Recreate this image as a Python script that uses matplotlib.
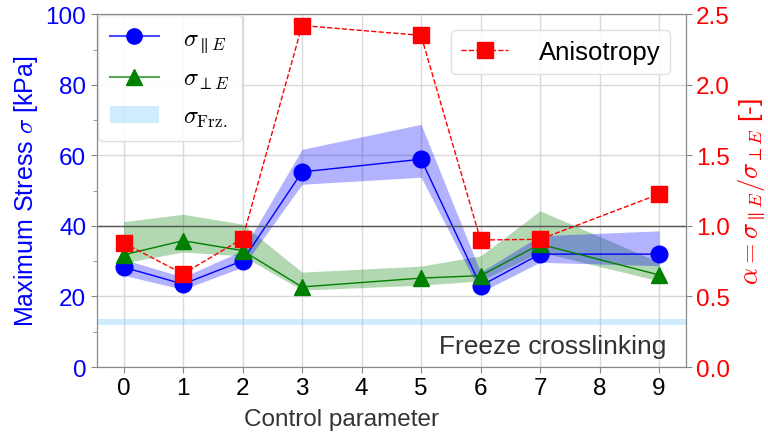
import matplotlib
matplotlib.use("Agg")
import matplotlib.pyplot as plt
from matplotlib.patches import Patch
from matplotlib.lines import Line2D

plt.rcParams['font.family'] = ['Liberation Sans', 'DejaVu Sans']
plt.rcParams['mathtext.fontset'] = 'cm'

x = [0, 1, 2, 3, 5, 6, 7, 9]
sigma_par = [28.3, 23.5, 30.1, 55.3, 58.9, 23.0, 32.0, 32.0]
sigma_par_lo = [26.0, 22.0, 28.3, 51.8, 53.8, 21.2, 29.7, 28.7]
sigma_par_hi = [30.5, 25.5, 33.0, 61.7, 68.8, 26.9, 37.2, 38.6]
sigma_perp = [31.8, 35.8, 33.0, 22.7, 25.2, 25.9, 34.8, 26.1]
sigma_perp_lo = [29.5, 32.6, 31.5, 21.8, 23.2, 24.4, 32.6, 24.4]
sigma_perp_hi = [41.2, 43.3, 40.5, 26.9, 28.6, 31.5, 44.3, 29.7]
anisotropy = [0.88, 0.66, 0.91, 2.42, 2.35, 0.90, 0.905, 1.225]
freeze_lo, freeze_hi = 12.0, 13.5
xticks = list(range(10))

fig = plt.figure(figsize=(7.68, 4.35), dpi=100)
ax = fig.add_axes([0.126, 0.154, 0.767, 0.811])
ax2 = ax.twinx()

ax.set_axisbelow(True)
ax.grid(True, color='#d9d9d9', lw=1)
for s in ax.spines.values():
    s.set_color('#888888')
for s in ax2.spines.values():
    s.set_color('#888888')

ax.axhspan(freeze_lo, freeze_hi, color='lightskyblue', alpha=0.4, lw=0)
ax.fill_between(x, sigma_perp_lo, sigma_perp_hi, color='green', alpha=0.3, lw=0)
ax.fill_between(x, sigma_par_lo, sigma_par_hi, color='blue', alpha=0.3, lw=0)
ax.plot(x, sigma_par, color='blue', lw=1, marker='o', ms=12)
ax.plot(x, sigma_perp, color='green', lw=1, marker='^', ms=12)
ax.axhline(40, color='#555555', lw=1)

ax2.plot(x, anisotropy, color='red', ls='--', lw=1, marker='s', ms=11.5)

ax.set_xlim(-0.45, 9.45)
ax.set_ylim(0, 100)
ax2.set_ylim(0, 2.5)
ax.set_xticks(xticks)
ax.set_xticklabels([str(t) for t in xticks])
ax.set_yticks([0, 20, 40, 60, 80, 100])
ax.set_yticks([10, 30, 50, 70, 90], minor=True)
ax2.set_yticks([0, 0.5, 1.0, 1.5, 2.0, 2.5])

ax.tick_params(axis='x', labelsize=17.5, colors='#888888', labelcolor='black', length=4)
ax.tick_params(axis='y', labelsize=17.5, colors='#888888', labelcolor='blue', length=4)
ax.tick_params(axis='y', which='minor', colors='#888888', length=3)
ax2.tick_params(axis='y', labelsize=17.5, colors='#888888', labelcolor='red', length=4)

ax.set_xlabel('Control parameter', fontsize=17.5, color='#333333')
ax.xaxis.set_label_coords(0.416, -0.117)
ax.set_ylabel(r'Maximum Stress $\sigma$ [kPa]', fontsize=18, color='blue')
ax2.set_ylabel(r'$\alpha = \sigma_{\parallel E}/\sigma_{\perp E}$ [-]', fontsize=19, color='red')

ax.text(9.13, 6, 'Freeze crosslinking', fontsize=19, color='#333333', ha='right', va='center')

handles = [
    Line2D([], [], color=(0.3, 0.3, 1.0), lw=1.5, marker='o', ms=11, mfc='blue', mec='blue'),
    Line2D([], [], color=(0.35, 0.65, 0.35), lw=1.5, marker='^', ms=11, mfc='green', mec='green'),
    Patch(facecolor='lightskyblue', alpha=0.4, lw=0),
]
labels = [r'$\sigma_{\parallel E}$', r'$\sigma_{\perp E}$', r'$\sigma_{\mathrm{Frz.}}$']
ax.legend(handles, labels, loc='upper left', fontsize=17.5, framealpha=0.9,
          edgecolor='#dddddd', handlelength=2.0, borderpad=0.5, labelspacing=0.6,
          borderaxespad=0.05, handletextpad=1.0)
ax2.legend(['Anisotropy'], loc='upper right', fontsize=18.5, framealpha=0.9,
           edgecolor='#dddddd', handlelength=1.8, borderaxespad=0.6, borderpad=0.4,
           handletextpad=1.2)

fig.savefig('out.png', dpi=100)
